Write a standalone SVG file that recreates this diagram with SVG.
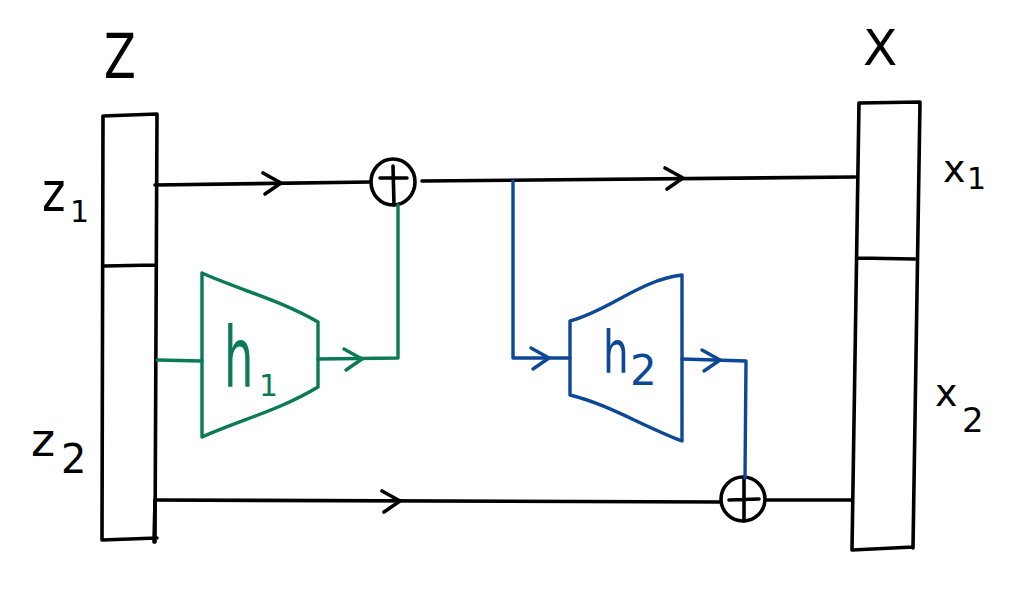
<svg xmlns="http://www.w3.org/2000/svg" width="1030" height="596" viewBox="0 0 1030 596">
<defs>
<style>
.k{fill:none;stroke:#000;stroke-width:3.6;stroke-linecap:round;stroke-linejoin:round}
.g{fill:none;stroke:#0b7a55;stroke-width:3.4;stroke-linecap:round;stroke-linejoin:round}
.b{fill:none;stroke:#0d4896;stroke-width:3.4;stroke-linecap:round;stroke-linejoin:round}
.t{font-family:"DejaVu Sans","Liberation Sans",sans-serif;font-weight:normal}
</style>
<path id="chev" d="M-10,-10 L8,0 L-8,11"/>
</defs>
<rect width="1030" height="596" fill="#fff"/>
<g id="Z">
<path class="k" d="M103,116 L157,114 M103,116 L102,540 M157,114 L155,542 M102,540 L157,538 M104,266 L155,265"/>
<text class="t" x="104" y="78" font-size="62" transform="translate(104,78) scale(0.75,1) translate(-104,-78)">Z</text>
<text class="t" x="42" y="211" font-size="56" transform="translate(42,211) scale(0.8,1) translate(-42,-211)">z</text>
<text class="t" x="70" y="222" font-size="30">1</text>
<text class="t" x="31" y="456" font-size="46">z</text>
<text class="t" x="61" y="473" font-size="40">2</text>
</g>
<g id="X">
<path class="k" d="M859,103 L920,102 M859,103 L852,550 M920,102 L913,548 M852,550 L913,547 M857,258 L915,259"/>
<text class="t" x="863" y="65" font-size="50">X</text>
<text class="t" x="943" y="182" font-size="38">x</text>
<text class="t" x="967" y="189" font-size="30">1</text>
<text class="t" x="935" y="406" font-size="38">x</text>
<text class="t" x="962" y="432" font-size="34">2</text>
</g>
<g id="h1">
<path class="g" d="M202,273 C240,290 280,300 318,322 M202,273 L202,437 M202,437 C240,420 280,410 318,387 M318,322 L318,387"/>
<text class="t" x="224" y="387" font-size="62" fill="#0b7a55" transform="translate(224,387) scale(0.75,1.35) translate(-224,-387)">h</text>
<text class="t" x="259" y="396" font-size="30" fill="#0b7a55">1</text>
</g>
<g id="h2">
<path class="b" d="M570,321 C610,310 640,280 682,275 M570,321 L570,395 M570,395 C610,405 640,425 682,441 M682,275 L682,441"/>
<text class="t" x="603" y="373" font-size="58" fill="#0d4896" transform="translate(603,373) scale(0.7,1) translate(-603,-373)">h</text>
<text class="t" x="630" y="385" font-size="42" fill="#0d4896">2</text>
</g>
<g id="plus1">
<ellipse class="k" cx="393" cy="182" rx="22" ry="23"/>
<path class="k" d="M380,178 L407,178 M393,166 L394,205"/>
</g>
<g id="plus2">
<ellipse class="k" cx="743" cy="499" rx="22" ry="22"/>
<path class="k" d="M729,500 L759,499 M744,478 L744,521"/>
</g>
<g id="connectors">
<path class="k" d="M155,185 L370,182"/>
<use href="#chev" class="k" x="273" y="183"/>
<path class="k" d="M422,181 L855,177"/>
<use href="#chev" class="k" x="675" y="178"/>
<path class="k" d="M155,500 L721,502"/>
<path class="k" d="M155,500 L154,542"/>
<use href="#chev" class="k" x="392" y="501"/>
<path class="k" d="M766,500 L852,500"/>
<path class="g" d="M157,360 L202,361"/>
<path class="g" d="M318,359 L398,358 L398,205"/>
<use href="#chev" class="g" x="354" y="359"/>
<path class="b" d="M513,181 L513,358 L570,358"/>
<use href="#chev" class="b" x="541" y="358"/>
<path class="b" d="M682,359 L746,361 L745,478"/>
<use href="#chev" class="b" x="712" y="360"/>
</g>
</svg>
